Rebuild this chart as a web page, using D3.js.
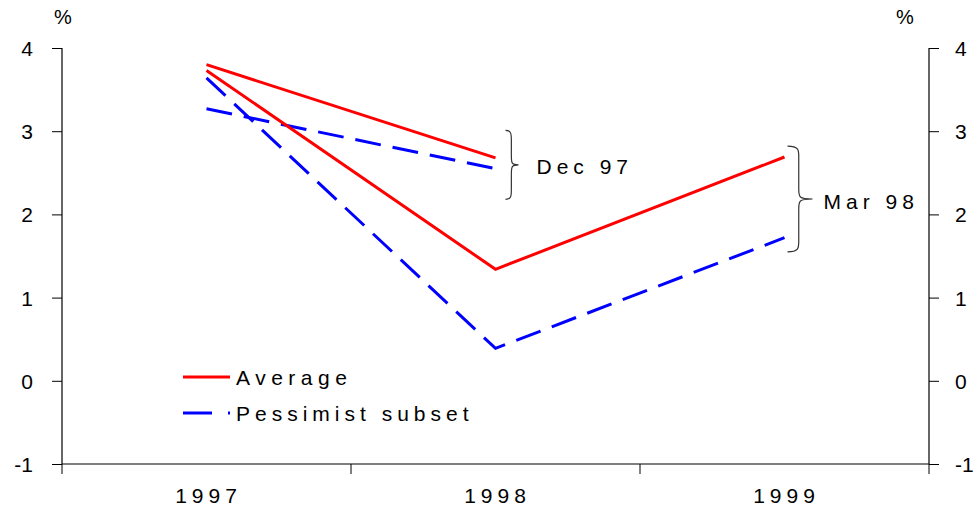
<!DOCTYPE html>
<html>
<head>
<meta charset="utf-8">
<script src="https://cdn.jsdelivr.net/npm/d3@7"></script>
<style>
  html, body { margin: 0; padding: 0; background: #fff; }
  svg { display: block; font-family: Arial, "Liberation Sans", sans-serif; }
</style>
</head>
<body>
<svg id="chart" width="975" height="511"></svg>
<script>
// ─── data ─────────────────────────────────────────────
const years      = ['1997', '1998', '1999'];
const yTicks     = [-1, 0, 1, 2, 3, 4];
const dec97Avg   = [3.80, 2.68];
const dec97Pess  = [3.27, 2.55];
const mar98Avg   = [3.73, 1.34, 2.69];
const mar98Pess  = [3.64, 0.39, 1.72];
const seriesNames = ['Average', 'Pessimist subset'];
// survey labels with brace extent [top, bottom] in % units
const surveys = [
  { label: 'Dec 97', year: '1998', span: [3.01, 2.18] },
  { label: 'Mar 98', year: '1999', span: [2.82, 1.55] }
];

// ─── layout ───────────────────────────────────────────
const svg = d3.select('#chart');
const L = 62, R = 929, T = 48, B = 464;
const RED = '#ff0000', BLUE = '#0000ff';
const FS = 21;

const x = d3.scaleBand().domain(years).range([L, R]).padding(0);
const xc = d => x(d) + x.bandwidth() / 2;
const y = d3.scaleLinear().domain([-1, 4]).range([B, T]);

// left axis
const gl = svg.append('g').attr('transform', `translate(${L},0)`)
  .call(d3.axisLeft(y).tickValues(yTicks).tickSize(10).tickPadding(19).tickFormat(d3.format('d')));
// right axis
const gr = svg.append('g').attr('transform', `translate(${R},0)`)
  .call(d3.axisRight(y).tickValues(yTicks).tickSize(10).tickPadding(16).tickFormat(d3.format('d')));
[gl, gr].forEach(g => {
  g.select('.domain').attr('stroke', '#000').attr('stroke-width', 1.2).attr('d',
    `M0,${y(4)}V${y(-1)}`);
  g.selectAll('.tick line').attr('stroke', '#000').attr('stroke-width', 1);
  g.selectAll('.tick text').attr('font-size', FS).attr('fill', '#000')
    .attr('font-family', 'Arial, "Liberation Sans", sans-serif')
    .attr('dy', '0.36em')
    .text(d => d < 0 ? '-' + Math.abs(d) : d);
});

// bottom axis: baseline at -1 with ticks at band edges
svg.append('line').attr('x1', L).attr('x2', R).attr('y1', y(-1)).attr('y2', y(-1))
  .attr('stroke', '#000').attr('stroke-width', 1.2);
const edges = years.map(d => x(d)).concat([x(years[years.length - 1]) + x.bandwidth()]);
svg.selectAll('.xt').data(edges).enter().append('line')
  .attr('x1', d => d).attr('x2', d => d)
  .attr('y1', y(-1)).attr('y2', y(-1) + 10)
  .attr('stroke', '#000').attr('stroke-width', 1);
svg.selectAll('.xl').data(years).enter().append('text')
  .attr('x', d => xc(d) + 2).attr('y', 503)
  .attr('text-anchor', 'middle').attr('font-size', FS)
  .attr('letter-spacing', 5).text(d => d);

// % labels
svg.append('text').attr('x', 63).attr('y', 24).attr('text-anchor', 'middle').attr('font-size', 20).text('%');
svg.append('text').attr('x', 905).attr('y', 24).attr('text-anchor', 'middle').attr('font-size', 20).text('%');

// lines
const line = d3.line().x(d => xc(d.yr)).y(d => y(d.v));
const toPts = vals => vals.map((v, i) => ({ yr: years[i], v }));
const drawLine = (vals, color, dash) => svg.append('path')
  .datum(toPts(vals)).attr('d', line)
  .attr('fill', 'none').attr('stroke', color).attr('stroke-width', 3)
  .attr('stroke-dasharray', dash || null);

drawLine(dec97Pess, BLUE, '26 12');
drawLine(mar98Pess, BLUE, '26 12');
drawLine(dec97Avg, RED);
drawLine(mar98Avg, RED);

// braces + survey labels
function brace(x0, y0, y1, w) {
  const m = (y0 + y1) / 2, c = w * 0.45;
  return `M${x0},${y0} C${x0 + c},${y0} ${x0 + c},${y0 + 4} ${x0 + c},${y0 + 10}` +
         ` L${x0 + c},${m - 10} C${x0 + c},${m - 2} ${x0 + c},${m} ${x0 + w},${m}` +
         ` C${x0 + c},${m} ${x0 + c},${m + 2} ${x0 + c},${m + 10}` +
         ` L${x0 + c},${y1 - 10} C${x0 + c},${y1 - 4} ${x0 + c},${y1} ${x0},${y1}`;
}
const braceX = [10, 3];
const braceW = [13, 25];
const labelGap = [18, 11];
surveys.forEach((s, i) => {
  const bx = xc(s.year) + braceX[i];
  const y0 = y(s.span[0]), y1 = y(s.span[1]);
  svg.append('path').attr('d', brace(bx, y0, y1, braceW[i]))
    .attr('fill', 'none').attr('stroke', '#333').attr('stroke-width', 1.2);
  svg.append('text').attr('x', bx + braceW[i] + labelGap[i]).attr('y', (y0 + y1) / 2 + 9.5)
    .attr('font-size', FS).attr('letter-spacing', 5).text(s.label);
});

// legend
const legY = [377, 413];
const leg = svg.append('g');
seriesNames.forEach((n, i) => {
  leg.append('line').attr('x1', 183).attr('x2', 230).attr('y1', legY[i]).attr('y2', legY[i])
    .attr('stroke', i === 0 ? RED : BLUE).attr('stroke-width', 3)
    .attr('stroke-dasharray', i === 0 ? null : '29 16');
  leg.append('text').attr('x', 236).attr('y', legY[i] + 8)
    .attr('font-size', FS).attr('letter-spacing', i === 0 ? 5.5 : 5).text(n);
});
</script>
</body>
</html>
